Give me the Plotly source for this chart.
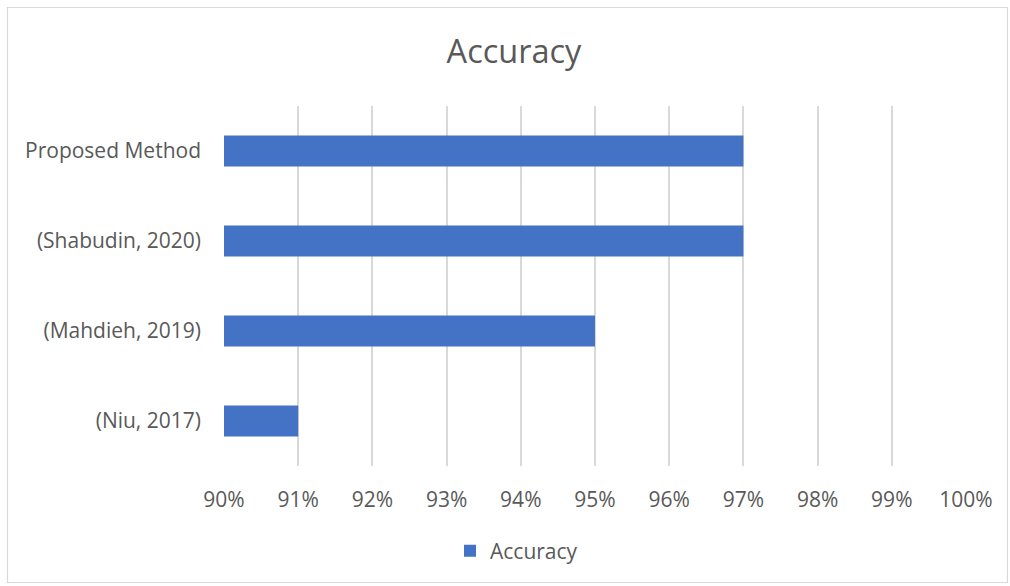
import plotly.graph_objects as go

categories = ["(Niu, 2017)", "(Mahdieh, 2019)", "(Shabudin, 2020)", "Proposed Method"]
accuracy = [0.91, 0.95, 0.97, 0.97]
tick_vals = [0.90, 0.91, 0.92, 0.93, 0.94, 0.95, 0.96, 0.97, 0.98, 0.99, 1.00]
tick_text = ["90%", "91%", "92%", "93%", "94%", "95%", "96%", "97%", "98%", "99%", "100%"]

FONT = "Open Sans, Liberation Sans, sans-serif"
GREY = "#595959"

fig = go.Figure()
fig.add_trace(go.Bar(
    y=categories, x=accuracy, orientation="h", name="Accuracy",
    marker=dict(color="#4472C4", line=dict(width=0)),
))

L, R, T, B = 224, 1010 - 966, 106, 586 - 466
W, H = 1010, 586
pw, ph = W - L - R, H - T - B

def px(x):
    return (x - L) / pw

def py(y):
    return (H - B - y) / ph

fig.update_layout(
    width=W, height=H,
    margin=dict(l=L, r=R, t=T, b=B, autoexpand=False),
    paper_bgcolor="white", plot_bgcolor="white",
    font=dict(family=FONT, color=GREY, size=21),
    title=dict(text="Accuracy", x=514 / W, xanchor="center", y=1 - 52 / H, yanchor="middle",
               font=dict(size=32.5, color=GREY, family=FONT)),
    bargap=0.655,
    showlegend=True,
    legend=dict(orientation="h", x=px(450), xanchor="left", y=py(551), yanchor="middle",
                font=dict(size=21, color=GREY, family=FONT), itemwidth=30),
    xaxis=dict(range=[0.90, 1.00], tickvals=tick_vals, ticktext=tick_text,
               showgrid=True, gridcolor="#d9d9d9", gridwidth=1.5, zeroline=False,
               showline=False, ticks="", ticklabelstandoff=19, tickfont=dict(size=21, color=GREY)),
    yaxis=dict(showgrid=False, zeroline=False, showline=False, ticks="",
               ticklabelstandoff=22, tickfont=dict(size=21, color=GREY)),
    shapes=[dict(type="rect", xref="paper", yref="paper",
                 x0=px(7.5), x1=px(1007.5), y0=py(582.5), y1=py(7.5),
                 line=dict(color="#d9d9d9", width=1.2), layer="below")],
)

fig.write_html("out.html")
